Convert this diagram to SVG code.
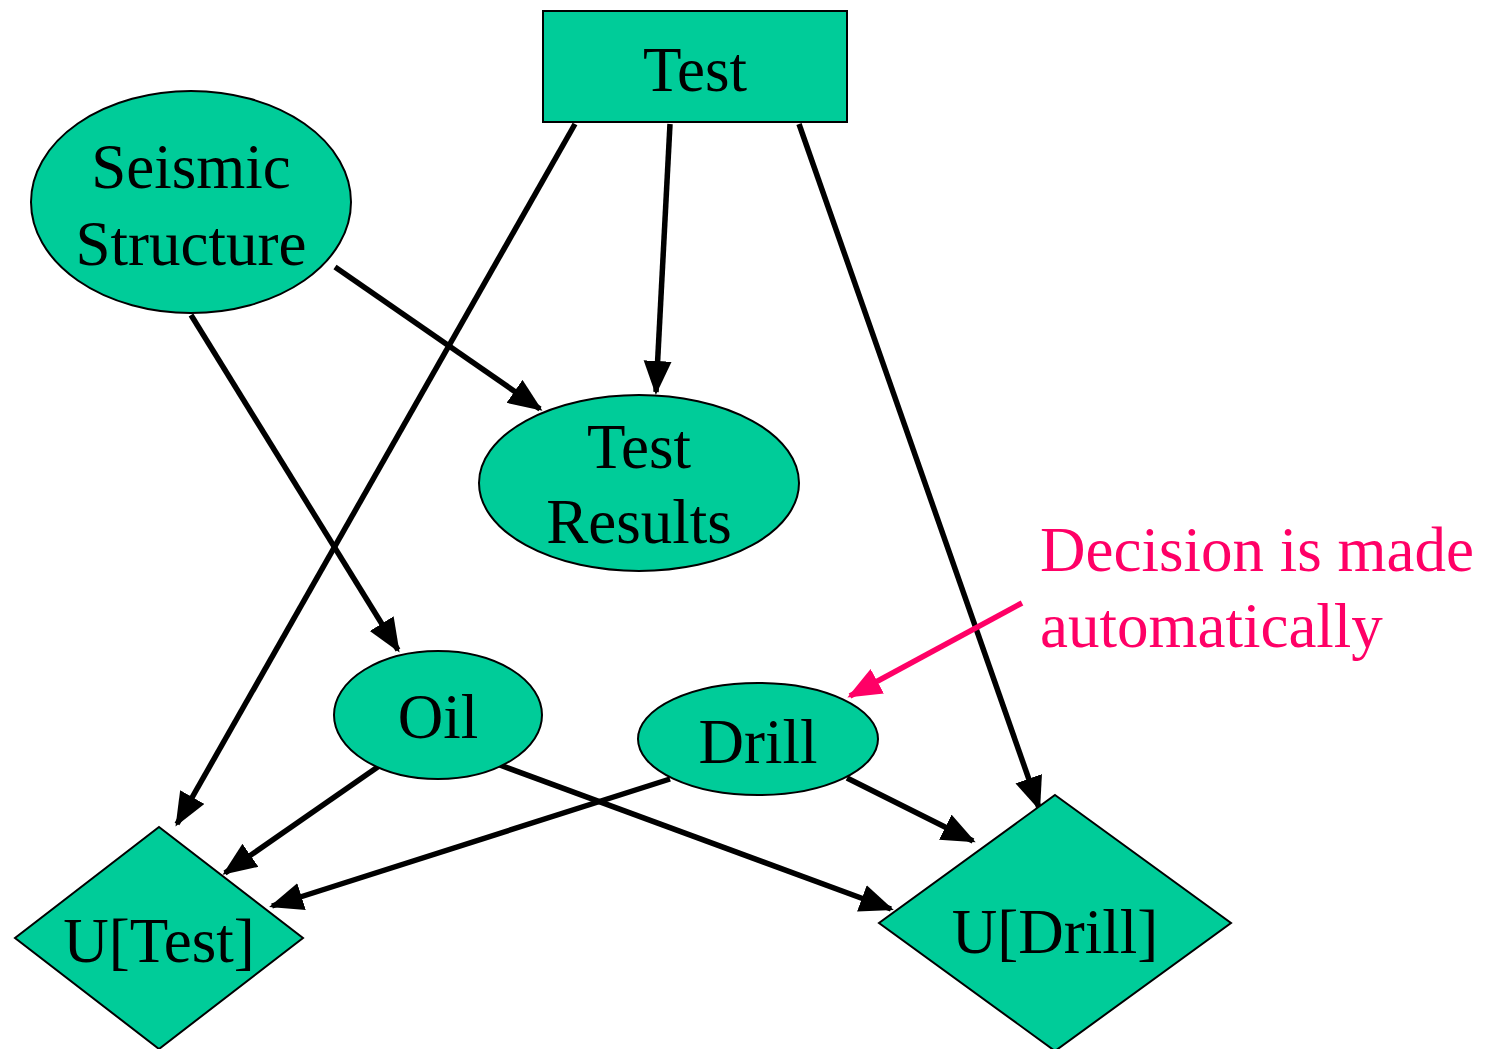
<svg xmlns="http://www.w3.org/2000/svg" width="1486" height="1049" viewBox="0 0 1486 1049">
  <style>
    .node { fill: #00CC99; stroke: #000000; stroke-width: 2; }
    .label { font-family: 'Liberation Serif', 'Times New Roman', Tinos, 'DejaVu Serif', serif; font-size: 63px; fill: #000000; text-anchor: middle; }
    .note { font-family: 'Liberation Serif', 'Times New Roman', Tinos, 'DejaVu Serif', serif; font-size: 63px; fill: #FF0066; }
    .edge { stroke: #000000; stroke-width: 5.5; fill: none; marker-end: url(#arrow); }
    .pointer { stroke: #FF0066; stroke-width: 5.5; fill: none; marker-end: url(#arrow-pink); }
  </style>
  <defs>
    <marker id="arrow" markerUnits="userSpaceOnUse" markerWidth="36" markerHeight="30" refX="31" refY="14" orient="auto">
      <path d="M0,0 L34,14 L0,28 z" fill="#000000"/>
    </marker>
    <marker id="arrow-pink" markerUnits="userSpaceOnUse" markerWidth="36" markerHeight="30" refX="31" refY="14" orient="auto">
      <path d="M0,0 L34,14 L0,28 z" fill="#FF0066"/>
    </marker>
  </defs>

  <rect x="0" y="0" width="1486" height="1049" fill="#FFFFFF"/>

  <!-- influence arcs -->
  <g id="connectors">
    <line class="edge" x1="670" y1="124" x2="656" y2="392"/>
    <line class="edge" x1="335" y1="267" x2="540" y2="409"/>
    <line class="edge" x1="191" y1="315" x2="398" y2="650"/>
    <line class="edge" x1="575" y1="124" x2="177" y2="824"/>
    <line class="edge" x1="799" y1="124" x2="1039" y2="808"/>
    <line class="edge" x1="382" y1="764" x2="225" y2="873"/>
    <line class="edge" x1="497" y1="764" x2="891" y2="909"/>
    <line class="edge" x1="670" y1="779" x2="272" y2="906"/>
    <line class="edge" x1="847" y1="778" x2="973" y2="841"/>
  </g>

  <g id="test">
    <rect class="node" x="543" y="11" width="304" height="111"/>
    <text class="label" x="695" y="91">Test</text>
  </g>

  <g id="seismic-structure">
    <ellipse class="node" cx="191" cy="202" rx="160" ry="111"/>
    <text class="label" x="191" y="188">Seismic</text>
    <text class="label" x="191" y="265">Structure</text>
  </g>

  <g id="test-results">
    <ellipse class="node" cx="639" cy="483" rx="160" ry="88"/>
    <text class="label" x="639" y="468">Test</text>
    <text class="label" x="639" y="543">Results</text>
  </g>

  <g id="oil">
    <ellipse class="node" cx="438" cy="715" rx="104" ry="64"/>
    <text class="label" x="438" y="738">Oil</text>
  </g>

  <g id="drill">
    <ellipse class="node" cx="758" cy="739" rx="120" ry="56"/>
    <text class="label" x="758" y="763">Drill</text>
  </g>

  <g id="u-test">
    <polygon class="node" points="159,827 303,938 159,1049 15,938"/>
    <text class="label" x="159" y="962">U[Test]</text>
  </g>

  <g id="u-drill">
    <polygon class="node" points="1055,795 1231,923 1055,1051 879,923"/>
    <text class="label" x="1055" y="953">U[Drill]</text>
  </g>

  <!-- annotation on the Drill decision -->
  <g id="note">
    <line class="pointer" x1="1022" y1="603" x2="850" y2="696"/>
    <text class="note" x="1040" y="571">Decision is made</text>
    <text class="note" x="1040" y="647">automatically</text>
  </g>
</svg>
